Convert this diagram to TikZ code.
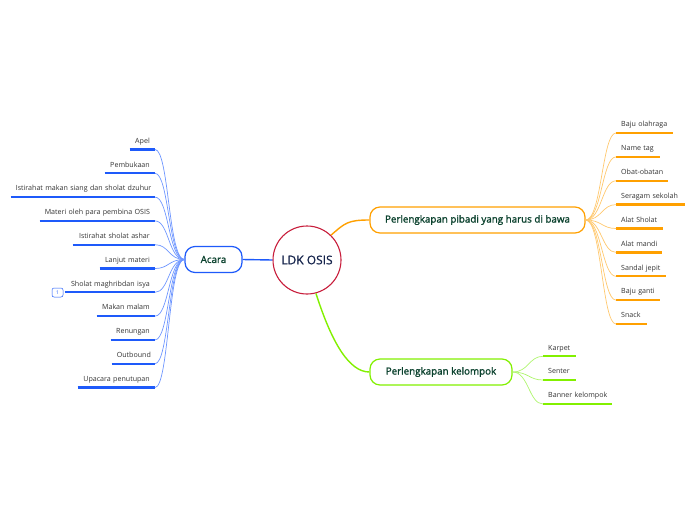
\documentclass[tikz,border=0pt]{standalone}
\usepackage{fontspec}
\setmainfont{Open Sans}
\newfontfamily\semib[FakeBold=1.3]{Open Sans}
\newfontfamily\medw[FakeBold=0.8]{Open Sans}
\definecolor{blueD}{RGB}{30,90,250}
\definecolor{blueL}{RGB}{110,150,255}
\definecolor{orangeD}{RGB}{255,160,0}
\definecolor{orangeL}{RGB}{255,200,110}
\definecolor{greenD}{RGB}{130,240,0}
\definecolor{greenL}{RGB}{175,245,110}
\definecolor{ldkred}{RGB}{200,30,60}
\definecolor{navy}{RGB}{20,35,75}
\definecolor{branchtxt}{RGB}{10,65,45}
\definecolor{leaftxt}{RGB}{50,50,50}
\tikzset{
  center/.style={circle, draw=ldkred, line width=1.1pt, fill=white, minimum size=68pt, inner sep=0pt, text=navy, font=\medw\fontsize{12}{14}\selectfont},
  branch/.style={rectangle, rounded corners=10pt, line width=1.2pt, fill=white, minimum height=26pt, inner sep=0pt, text=branchtxt, font=\semib\fontsize{9.8}{11}\selectfont},
  leafL/.style={inner xsep=5pt, inner ysep=6pt, text height=5.3pt, text depth=0pt, align=right, text=leaftxt, font=\fontsize{7.1}{8}\selectfont},
  leafR/.style={inner xsep=5pt, inner ysep=6pt, text height=5.3pt, text depth=0pt, align=left, text=leaftxt, font=\fontsize{7.1}{8}\selectfont},
  main/.style={line width=1.4pt},
  twig/.style={line width=0.7pt},
  uline/.style={line width=2.3pt},
  badge/.style={rectangle, rounded corners=2pt, draw=blueD, line width=0.5pt, minimum width=11pt, minimum height=9pt, inner sep=0pt, text=blueD, font=\fontsize{5}{6}\selectfont},
}
\begin{document}
\begin{tikzpicture}[x=1pt,y=-1pt]
\useasboundingbox (0,0) rectangle (696,520);
\node[center] (ldk) at (307,260) {LDK OSIS};
\node[branch, draw=blueD, minimum width=57pt] (acara) at (213.5,259.5) {Acara};
\node[branch, draw=orangeD, minimum width=215pt] (p1) at (477.5,220) {Perlengkapan pibadi yang harus di bawa};
\node[branch, draw=greenD, minimum width=142pt] (p2) at (441,372) {Perlengkapan kelompok};
\draw[main, blueD] (ldk.west) -- (acara.east);
\draw[main, orangeD] (ldk.46) .. controls +(14,-12) and +(-22,0) .. (p1.west);
\draw[main, greenD] (ldk.-75) .. controls +(16,50) and +(-20,0) .. (p2.west);
% left leaves
\foreach \n/\y/\w/\t in {
  a1/149.5/15/{Apel},
  a2/173.3/40/{Pembukaan},
  a3/197.1/134/{Istirahat makan siang dan sholat dzuhur},
  a4/220.9/105/{Materi oleh para pembina OSIS},
  a5/244.7/72/{Istirahat sholat ashar},
  a6/268.5/45/{Lanjut materi},
  a7/292.3/80/{Sholat maghribdan isya},
  a8/316.1/48/{Makan malam},
  a9/339.9/34/{Renungan},
  a10/363.7/33/{Outbound},
  a11/387.5/67/{Upacara penutupan}}{
  \node[leafL, text width=\w pt, anchor=south east] (\n) at (155,\y) {\mbox{\t}};
  \draw[uline, blueD] (\n.south west) -- (\n.south east);
  \draw[twig, blueL] (acara.west) .. controls +(-16,0) and +(14,0) .. (\n.south east);
}
\node[badge] (badge) at (57.5,292.5) {1};
% right leaves
\foreach \n/\y/\w/\t in {
  b1/133/47/{Baju olahraga},
  b2/156.9/34/{Name tag},
  b3/180.8/42/{Obat-obatan},
  b4/204.6/59/{Seragam sekolah},
  b5/228.5/37/{Alat Sholat},
  b6/252.4/36/{Alat mandi},
  b7/276.3/40/{Sandal jepit},
  b8/300.1/34/{Baju ganti},
  b9/324/21/{Snack}}{
  \node[leafR, text width=\w pt, anchor=south west] (\n) at (616,\y) {\mbox{\t}};
  \draw[uline, orangeD] (\n.south west) -- (\n.south east);
  \draw[twig, orangeL] (p1.east) .. controls +(16,0) and +(-14,0) .. (\n.south west);
}
% green leaves
\foreach \n/\y/\w/\t in {
  c1/356.3/23/{Karpet},
  c2/380/23/{Senter},
  c3/404/59/{Banner kelompok}}{
  \node[leafR, text width=\w pt, anchor=south west] (\n) at (543,\y) {\mbox{\t}};
  \draw[uline, greenD] (\n.south west) -- (\n.south east);
  \draw[twig, greenL] (p2.east) .. controls +(16,0) and +(-14,0) .. (\n.south west);
}
\end{tikzpicture}
\end{document}
